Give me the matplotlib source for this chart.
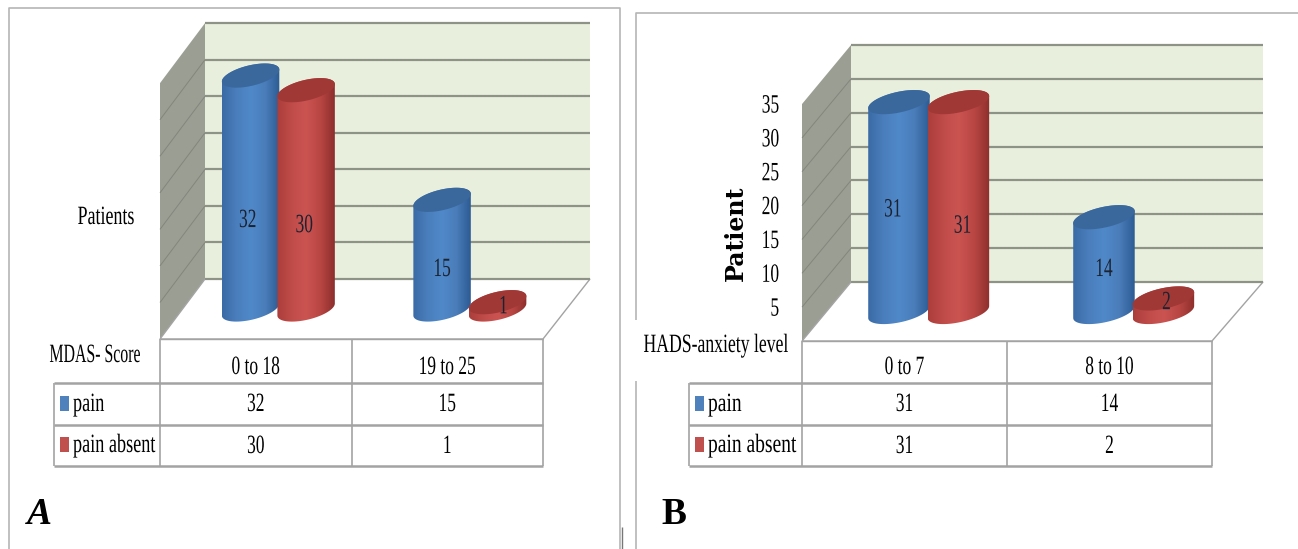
# two 3-D looking cylinder charts with their data tables
import numpy as np
import matplotlib
matplotlib.use("Agg")
import matplotlib.pyplot as plt
from matplotlib.patches import Polygon
from matplotlib.patheffects import AbstractPathEffect
from matplotlib.transforms import Affine2D

plt.rcParams["lines.solid_capstyle"] = "butt"

W, H = 1298, 549

series_names = ["pain", "pain absent"]
ticks = [0, 5, 10, 15, 20, 25, 30, 35]

cats_a = ["0 to 18", "19 to 25"]
pain_a = [32, 15]
absent_a = [30, 1]

cats_b = ["0 to 7", "8 to 10"]
pain_b = [31, 14]
absent_b = [31, 2]

BLUE = ["#3a6ba6", "#4a7ebc", "#5089c9", "#4a7dba", "#2e5c94"]
RED = ["#ab3d3b", "#c04c49", "#cb5451", "#b94643", "#8e2f2d"]
BLUE_TOP = "#3a689c"
RED_TOP = "#a03836"
GRID = "#8e9388"
EDGE = "#a3a3a3"
SERIF = "Liberation Serif"


class Squeeze(AbstractPathEffect):
    # the source text is tall and narrow, so pull the glyphs in around the anchor
    def __init__(self, text, sx):
        super().__init__()
        self.text = text
        self.sx = sx

    def draw_path(self, renderer, gc, tpath, affine, rgbFace=None):
        x0 = self.text.get_transform().transform(self.text.get_unitless_position())[0]
        squeezed = affine + Affine2D().translate(-x0, 0).scale(self.sx, 1).translate(x0, 0)
        renderer.draw_path(gc, tpath, squeezed, rgbFace)


def narrow(text, sx=0.66):
    text.set_path_effects([Squeeze(text, sx)])
    return text


def rgb(cols):
    c = np.array([matplotlib.colors.to_rgb(k) for k in cols])
    pos = np.linspace(0, 1, len(cols))
    xs = np.linspace(0, 1, 60)
    return np.stack([np.interp(xs, pos, c[:, i]) for i in range(3)], axis=1)[None, :, :]


def px_axes(fig, x0, ytop, x1, ybot):
    ax = fig.add_axes([x0 / W, 1 - ybot / H, (x1 - x0) / W, (ybot - ytop) / H])
    return ax


def cylinder(ax, xc, val, half, b, s, cols, top_col, z):
    t_up = np.linspace(np.pi, 0, 50)
    t_dn = np.linspace(0, -np.pi, 50)
    xs = np.r_[xc + half * np.cos(t_up), xc + half * np.cos(t_dn)]
    ys = np.r_[val + b * np.sin(t_up) + s * np.cos(t_up), b * np.sin(t_dn) + s * np.cos(t_dn)]
    body = Polygon(np.c_[xs, ys], closed=True, fc="none", ec="none", zorder=z)
    ax.add_patch(body)
    im = ax.imshow(rgb(cols), extent=[xc - half, xc + half, -5, 40], aspect="auto", zorder=z)
    im.set_clip_path(body)
    t = np.linspace(0, 2 * np.pi, 100)
    ax.fill(xc + half * np.cos(t), val + b * np.sin(t) + s * np.cos(t), color=top_col, lw=0, zorder=z + 0.1)


def panel(fig, bg, cats, pain, absent, lay):
    x0, x1 = lay["x0"], lay["x1"]
    wx0, wx1 = lay["wx0"], lay["wx1"]
    yf, yb, sc = lay["y_front"], lay["y_back"], lay["scale"]

    # side wall and floor
    bg.add_patch(Polygon([(x0, yf), (wx0, yb), (wx0, yb - 35 * sc), (x0, yf - 35 * sc)], fc="#9b9e93", ec="none"))
    bg.add_patch(Polygon([(x0, yf), (wx0, yb), (wx1, yb), (x1, yf)], fc="white", ec=EDGE, lw=1))
    for v in ticks[1:-1]:
        bg.plot([x0, wx0], [yf - v * sc, yb - v * sc], color="#83867c", lw=0.7)

    # back wall
    wall = px_axes(fig, wx0, yb - 35 * sc, wx1, yb)
    wall.set_facecolor("#e9efdd")
    wall.set_ylim(0, 35)
    wall.set_xticks([])
    wall.set_yticks(ticks)
    wall.tick_params(left=False, labelleft=False)
    wall.grid(axis="y", color=GRID, lw=1.6, clip_on=False)
    wall.set_axisbelow(True)
    for sp in wall.spines.values():
        sp.set_visible(False)

    # front scale, only panel B shows it
    if lay["show_ticks"]:
        front = px_axes(fig, x0, yf - 35 * sc, x0 + 1, yf)
        front.patch.set_alpha(0)
        front.set_ylim(0, 35)
        front.set_xticks([])
        front.set_yticks(ticks[1:])
        front.tick_params(left=False, pad=13, labelsize=19)
        for lab in front.get_yticklabels():
            lab.set_family(SERIF)
            narrow(lab)
        for sp in front.spines.values():
            sp.set_visible(False)

    # cylinders, value axis sits on the floor
    low = 4
    ax = px_axes(fig, x0, lay["y_base"] - 35 * sc, x1, lay["y_base"] + low * sc)
    ax.patch.set_alpha(0)
    half = 0.15
    b, s = 10.5 / sc, 6 / sc
    offs = [0.473, 0.763]
    for i, vals in enumerate([pain, absent]):
        for j, v in enumerate(vals):
            cols, top = (BLUE, BLUE_TOP) if i == 0 else (RED, RED_TOP)
            z = 3 + j * 2 + i
            cylinder(ax, j + offs[i], v, half, b, s, cols, top, z)
            narrow(ax.text(j + offs[i] + lay["lab_dx"][i][j], lay["lab_y"][i][j], str(v), ha="center", va="center",
                           family=SERIF, fontsize=19, color="#1b2230", zorder=20))
    ax.set_xlim(0, 2)
    ax.set_ylim(-low, 35)
    ax.axis("off")

    # table
    xs = lay["x_tab"]
    xm = (x0 + x1) / 2
    rows = [383, 425, 466]
    bg.plot([x0, x1], [yf, yf], color=EDGE, lw=1)
    bg.plot([x1, x1], [yf, rows[-1]], color=EDGE, lw=1.2)
    bg.plot([x0, x0], [yf, rows[-1]], color=EDGE, lw=1.2)
    bg.plot([xm, xm], [yf, rows[-1]], color=EDGE, lw=1.2)
    bg.plot([xs, xs], [rows[0], rows[-1]], color=EDGE, lw=1.2)
    for r in rows:
        bg.plot([xs, x1], [r, r], color=EDGE, lw=1.8)
    cx = [x0 + (x1 - x0) * 0.25, x0 + (x1 - x0) * 0.75]
    for j, c in enumerate(cats):
        narrow(bg.text(cx[j], 368, c, ha="center", va="center", family=SERIF, fontsize=19))
        narrow(bg.text(cx[j], 405, str(pain[j]), ha="center", va="center", family=SERIF, fontsize=19))
        narrow(bg.text(cx[j], 447, str(absent[j]), ha="center", va="center", family=SERIF, fontsize=19))
    sw = lay["swatch"]
    for y, col, name in zip([404, 445], ["#4f81bd", "#c0504d"], series_names):
        bg.fill([sw, sw + 9, sw + 9, sw], [y - 8, y - 8, y + 7, y + 7], color=col, lw=0)
        narrow(bg.text(sw + 13, y + 1, name, ha="left", va="center", family=SERIF, fontsize=19), lay["legend_sx"])


fig = plt.figure(figsize=(W / 100, H / 100), dpi=100, facecolor="white")
bg = fig.add_axes([0, 0, 1, 1], zorder=-1)
bg.set_xlim(0, W)
bg.set_ylim(H, 0)
bg.axis("off")

# frames
bg.plot([9, 9, 620, 620], [549, 8, 8, 549], color="#b5b5b5", lw=1.2)
bg.plot([1298, 636, 636], [13, 13, 320], color="#b5b5b5", lw=1.2)
bg.plot([636, 636], [381, 549], color="#b5b5b5", lw=1.2)
bg.plot([622, 622], [527, 549], color="#777777", lw=1)

layout_a = dict(x0=160, x1=543, wx0=205, wx1=590, y_front=339, y_back=279, y_base=309.5, scale=7.31,
                x_tab=54, swatch=60, show_ticks=False, legend_sx=0.69,
                lab_y=[[12.1, 5.4], [11.4, 0.3]], lab_dx=[[-0.015, 0.0], [-0.01, 0.03]])
layout_b = dict(x0=802, x1=1212, wx0=851, wx1=1263, y_front=341, y_back=282, y_base=312, scale=6.77,
                x_tab=689, swatch=695, show_ticks=True, legend_sx=0.74,
                lab_y=[[15, 6.2], [12.6, 1.3]], lab_dx=[[-0.03, 0.0], [0.02, 0.015]])

panel(fig, bg, cats_a, pain_a, absent_a, layout_a)
panel(fig, bg, cats_b, pain_b, absent_b, layout_b)

narrow(bg.text(106, 218, "Patients", ha="center", va="center", family=SERIF, fontsize=19), 0.68)
narrow(bg.text(95, 356, "MDAS- Score", ha="center", va="center", family=SERIF, fontsize=19), 0.6)
bg.text(736, 233, "Patient", ha="center", va="center", rotation=90, family="DejaVu Serif", weight="bold", fontsize=17)
narrow(bg.text(716, 346, "HADS-anxiety level", ha="center", va="center", family=SERIF, fontsize=19), 0.67)
bg.text(39, 515, "A", ha="center", va="center", family=SERIF, weight="bold", style="italic", fontsize=27)
bg.text(674, 514, "B", ha="center", va="center", family=SERIF, weight="bold", fontsize=27)

fig.savefig("out.png", dpi=100)
